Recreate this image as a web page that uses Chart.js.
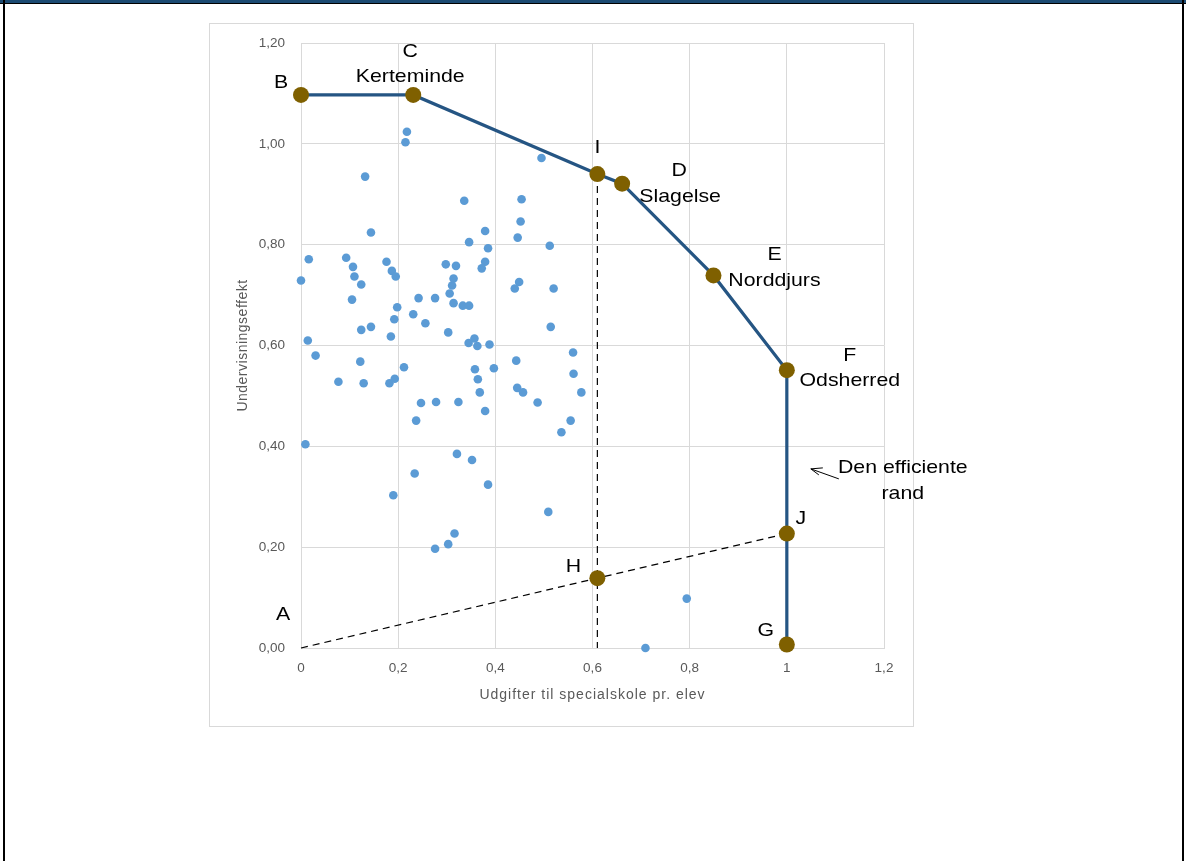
<!DOCTYPE html>
<html>
<head>
<meta charset="utf-8">
<script src="https://cdn.jsdelivr.net/npm/chart.js@4.4.0/dist/chart.umd.min.js"></script>
<style>
  body { margin: 0; background: #fff; width: 1186px; height: 861px; position: relative; overflow: hidden; }
  #topbar { position: absolute; left: 0; top: 0; width: 1186px; height: 3px; background: #1b4a72; border-bottom: 1px solid #000; }
  #leftline { position: absolute; left: 3px; top: 0; width: 2px; height: 861px; background: #000; }
  #rightline { position: absolute; left: 1182px; top: 0; width: 2px; height: 861px; background: #000; }
  #box { position: absolute; left: 209px; top: 23px; width: 703px; height: 702px; border: 1px solid #d9d9d9; }
  #dea { position: absolute; left: 210px; top: 24px; }
</style>
</head>
<body>
<div id="topbar"></div>
<div id="leftline"></div>
<div id="rightline"></div>
<div id="box"></div>
<canvas id="dea" width="799" height="702"></canvas>

<script>
// kommuner (x = udgifter, y = undervisningseffekt)
const kommuneX = [
  0.000, 0.016, 0.014, 0.030, 0.009, 0.093, 0.107, 0.110, 0.124, 0.105,
  0.124, 0.144, 0.122, 0.077, 0.129, 0.132, 0.144, 0.176, 0.187, 0.195,
  0.198, 0.192, 0.185, 0.182, 0.193, 0.190, 0.218, 0.215, 0.212, 0.231,
  0.242, 0.256, 0.247, 0.237, 0.234, 0.276, 0.278, 0.276, 0.298, 0.306,
  0.311, 0.314, 0.319, 0.314, 0.303, 0.333, 0.346, 0.324, 0.321, 0.303,
  0.316, 0.336, 0.346, 0.345, 0.357, 0.363, 0.358, 0.364, 0.368, 0.352,
  0.379, 0.385, 0.379, 0.372, 0.388, 0.397, 0.379, 0.385, 0.495, 0.454,
  0.452, 0.446, 0.512, 0.449, 0.440, 0.520, 0.514, 0.560, 0.561, 0.577,
  0.443, 0.445, 0.457, 0.487, 0.555, 0.536, 0.509, 0.794, 0.709
];
const kommuneY = [
  0.729, 0.771, 0.610, 0.580, 0.404, 0.774, 0.756, 0.737, 0.721, 0.691,
  0.631, 0.637, 0.568, 0.528, 0.525, 0.935, 0.824, 0.766, 0.748, 0.737,
  0.676, 0.652, 0.618, 0.525, 0.534, 0.303, 1.024, 1.003, 0.557, 0.662,
  0.694, 0.644, 0.486, 0.451, 0.346, 0.694, 0.488, 0.197, 0.761, 0.703,
  0.719, 0.733, 0.758, 0.684, 0.626, 0.679, 0.679, 0.488, 0.385, 0.206,
  0.227, 0.887, 0.805, 0.605, 0.614, 0.599, 0.553, 0.533, 0.507, 0.373,
  0.827, 0.793, 0.766, 0.753, 0.602, 0.555, 0.470, 0.324, 0.972, 0.890,
  0.846, 0.814, 0.798, 0.726, 0.713, 0.713, 0.637, 0.586, 0.544, 0.507,
  0.570, 0.516, 0.507, 0.487, 0.451, 0.428, 0.270, 0.098, 0.000
];

// den efficiente rand B-C-I-D-E-F-J-G
const frontNames = ["B", "C", "I", "D", "E", "F", "J", "G"];
const frontTowns = ["", "Kerteminde", "", "Slagelse", "Norddjurs", "Odsherred", "", ""];
const frontX = [0, 0.231, 0.61, 0.661, 0.849, 1.0, 1.0, 1.0];
const frontY = [1.097, 1.097, 0.94, 0.921, 0.739, 0.551, 0.227, 0.007];

// strålen A-H-J og lodret linje gennem I og H
const rayNames = ["A", "H", ""];
const rayX = [0, 0.61, 1.0];
const rayY = [0, 0.1385, 0.227];
const vertX = [0.61, 0.61];
const vertY = [0.94, 0];

const xTicks = [0, 0.2, 0.4, 0.6, 0.8, 1, 1.2];
const yTicks = [0, 0.2, 0.4, 0.6, 0.8, 1.0, 1.2];
const xTitle = "Udgifter til specialskole pr. elev";
const yTitle = "Undervisningseffekt";

const toPoints = (xs, ys) => xs.map((x, i) => ({ x: x, y: ys[i] }));
const comma = (v, d) => v.toFixed(d).replace(".", ",");

const brown = "#7f6000";
const navy = "#255583";
const grey = "#595959";
const sans = "'Liberation Sans', Arial, sans-serif";

// pixel offsets of the letters / town names from their point
const letterOffset = {
  A: [-18, -33], B: [-20, -12], C: [-3, -43], D: [57, -13], E: [61, -21],
  F: [63, -14], G: [-21, -14], H: [-24, -11], I: [0, -26], J: [14, -15]
};
const townOffset = {
  Kerteminde: [-3, -18], Slagelse: [58, 13], Norddjurs: [61, 5], Odsherred: [63, 11]
};

// text is a bit wider in the original, so stretch it slightly
function wideText(ctx, text, x, y) {
  ctx.save();
  ctx.translate(x, y);
  ctx.scale(1.12, 1);
  ctx.fillText(text, 0, 0);
  ctx.restore();
}

const notesPlugin = {
  id: "notes",
  afterDraw(chart) {
    const ctx = chart.ctx;
    const xs = chart.scales.x;
    const ys = chart.scales.y;
    const area = chart.chartArea;
    ctx.save();
    ctx.textAlign = "center";
    ctx.textBaseline = "middle";

    // axis titles, spaced out like the original
    ctx.fillStyle = grey;
    ctx.font = "14px " + sans;
    ctx.letterSpacing = "1px";
    ctx.fillText(xTitle, (area.left + area.right) / 2, area.bottom + 47);
    ctx.letterSpacing = "0.5px";
    ctx.save();
    ctx.translate(area.left - 58, (area.top + area.bottom) / 2);
    ctx.rotate(-Math.PI / 2);
    ctx.fillText(yTitle, 0, 0);
    ctx.restore();
    ctx.letterSpacing = "0px";

    ctx.fillStyle = "#000";
    ctx.font = "19px " + sans;
    const put = (name, x, y) => {
      const px = xs.getPixelForValue(x);
      const py = ys.getPixelForValue(y);
      const o = letterOffset[name] || townOffset[name];
      if (o) wideText(ctx, name, px + o[0], py + o[1]);
    };
    frontNames.forEach((n, i) => {
      put(n, frontX[i], frontY[i]);
      if (frontTowns[i]) put(frontTowns[i], frontX[i], frontY[i]);
    });
    rayNames.forEach((n, i) => { if (n) put(n, rayX[i], rayY[i]); });

    // "Den efficiente rand" with arrow pointing at F-J segment
    const ax = xs.getPixelForValue(frontX[5]);
    const ay = ys.getPixelForValue((frontY[5] + frontY[6]) / 2);
    wideText(ctx, "Den efficiente", ax + 116, ay + 16);
    wideText(ctx, "rand", ax + 116, ay + 42);
    ctx.strokeStyle = "#000";
    ctx.lineWidth = 1;
    ctx.beginPath();
    ctx.moveTo(ax + 52, ay + 27);
    ctx.lineTo(ax + 24, ay + 17);
    ctx.moveTo(ax + 36, ay + 16);
    ctx.lineTo(ax + 24, ay + 17);
    ctx.lineTo(ax + 32, ay + 23);
    ctx.stroke();
    ctx.restore();
  }
};

const tickFont = { family: sans, size: 13.5 };

new Chart(document.getElementById("dea"), {
  type: "scatter",
  data: {
    datasets: [
      {
        label: "Rand",
        data: toPoints(frontX, frontY),
        showLine: true,
        clip: false,
        borderColor: navy,
        borderWidth: 3.2,
        pointRadius: 8,
        pointBackgroundColor: brown,
        pointBorderColor: brown,
        pointBorderWidth: 0,
        order: 0
      },
      {
        label: "Straale",
        data: toPoints(rayX, rayY),
        showLine: true,
        clip: false,
        borderColor: "#000",
        borderWidth: 1.2,
        borderDash: [7, 5],
        pointRadius: [0, 8, 0],
        pointBackgroundColor: brown,
        pointBorderColor: brown,
        pointBorderWidth: 0,
        order: 1
      },
      {
        label: "Lodret",
        data: toPoints(vertX, vertY),
        showLine: true,
        clip: false,
        borderColor: "#000",
        borderWidth: 1.2,
        borderDash: [7, 5],
        pointRadius: 0,
        order: 2
      },
      {
        label: "Kommuner",
        data: toPoints(kommuneX, kommuneY),
        clip: false,
        pointRadius: 4.3,
        pointBackgroundColor: "#5b9bd5",
        pointBorderColor: "#5b9bd5",
        pointBorderWidth: 0,
        order: 3
      }
    ]
  },
  options: {
    responsive: false,
    animation: false,
    layout: { padding: { left: 0, right: 125, top: 19, bottom: 0 } },
    plugins: { legend: { display: false }, tooltip: { enabled: false } },
    scales: {
      x: {
        min: 0, max: 1.2,
        afterFit: (s) => { s.height = 78; s.paddingLeft = 0; s.paddingRight = 0; },
        afterBuildTicks: (s) => { s.ticks = xTicks.map((v) => ({ value: v })); },
        ticks: {
          color: grey, font: tickFont, padding: 12,
          callback: (v) => comma(Math.round(v * 10) / 10, v % 1 === 0 ? 0 : 1)
        },
        grid: { color: "#d9d9d9", drawTicks: false },
        border: { color: "#d9d9d9" }
      },
      y: {
        min: 0, max: 1.2,
        afterFit: (s) => { s.width = 91; s.paddingTop = 0; s.paddingBottom = 0; },
        afterBuildTicks: (s) => { s.ticks = yTicks.map((v) => ({ value: v })); },
        ticks: { color: grey, font: tickFont, padding: 16, callback: (v) => comma(v, 2) },
        grid: { color: "#d9d9d9", drawTicks: false },
        border: { color: "#d9d9d9" }
      }
    }
  },
  plugins: [notesPlugin]
});
</script>
</body>
</html>
